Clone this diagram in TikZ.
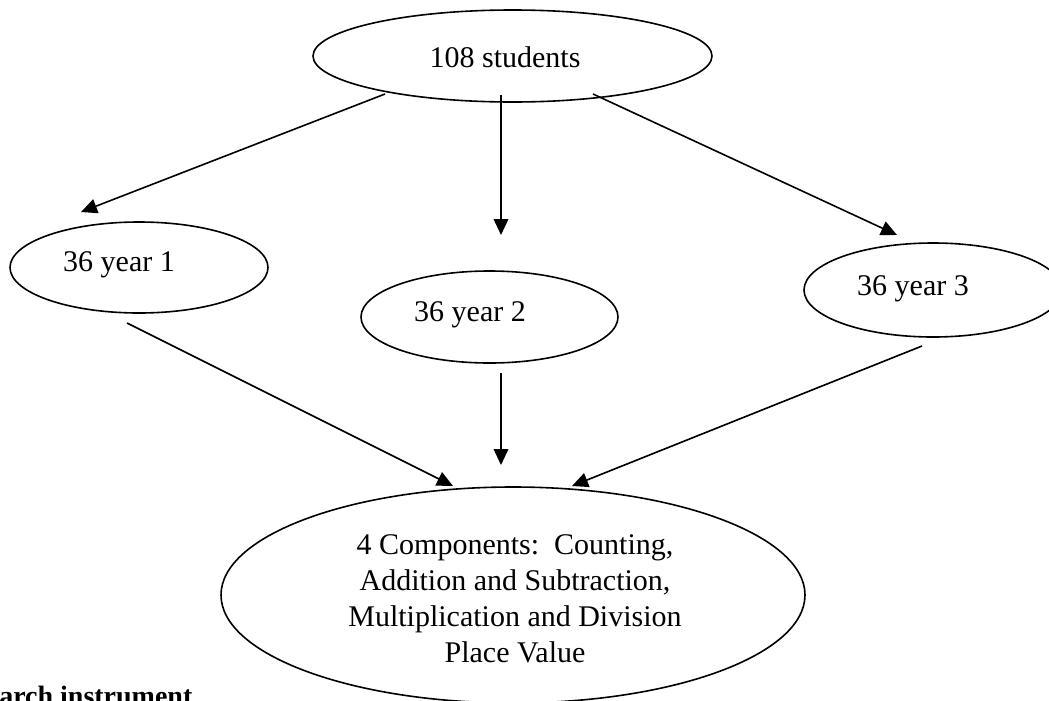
\documentclass[tikz,border=0pt]{standalone}
\usepackage{fontspec}
\setmainfont{Liberation Serif}
\usetikzlibrary{shapes.geometric,arrows.meta,calc}
\begin{document}
\begin{tikzpicture}[x=0.75pt,y=-0.75pt,
  oval/.style={draw,ellipse,inner sep=0pt,line width=1.2pt},
  lbl/.style={inner sep=0pt,font=\fontsize{22.5}{27}\selectfont},
  conn/.style={line width=1.2pt,-{Triangle[length=12pt,width=11pt]}}]
\useasboundingbox (0,0) rectangle (1049,700);
\clip (0,0) rectangle (1049,700);
% ellipses
\node[oval,minimum width=299.25pt,minimum height=69pt] (top) at (512.5,56) {};
\node[oval,minimum width=193.5pt,minimum height=68.25pt] (y1) at (139,267.5) {};
\node[oval,minimum width=192.75pt,minimum height=69pt] (y2) at (489.5,317) {};
\node[oval,minimum width=193.5pt,minimum height=70.5pt] (y3) at (933,290) {};
\node[oval,minimum width=438pt,minimum height=162pt] (bot) at (513,595) {};
% texts
\node[lbl,anchor=base] (t0) at (505,67) {108 students};
\node[lbl,anchor=base] (t1) at (119,271) {36 year 1};
\node[lbl,anchor=base] (t2) at (470,321) {36 year 2};
\node[lbl,anchor=base] (t3) at (913,295) {36 year 3};
\node[lbl,anchor=north,align=center] (t4) at (515,534) {4 Components:\ \ Counting,\\Addition and Subtraction,\\Multiplication and Division\\Place Value};
\node[inner sep=0pt,anchor=base west,font=\fontsize{21}{25}\selectfont\bfseries] (cap) at (-1,705) {arch instrument};
% connectors
\draw[conn] ($(top)+(-127.5,38)$) -- ($(y1)+(-58,-55.5)$);
\draw[conn] ($(top)+(-11.5,39)$) -- ($(y2)+(11.5,-82)$);
\draw[conn] ($(top)+(80.5,38)$) -- ($(y3)+(-36,-55)$);
\draw[conn] ($(y1)+(-12,55.5)$) -- ($(bot)+(-60,-109)$);
\draw[conn] ($(y2)+(11.5,56)$) -- ($(bot)+(-12,-130)$);
\draw[conn] ($(y3)+(-11,56)$) -- ($(bot)+(59,-109)$);
\end{tikzpicture}
\end{document}
